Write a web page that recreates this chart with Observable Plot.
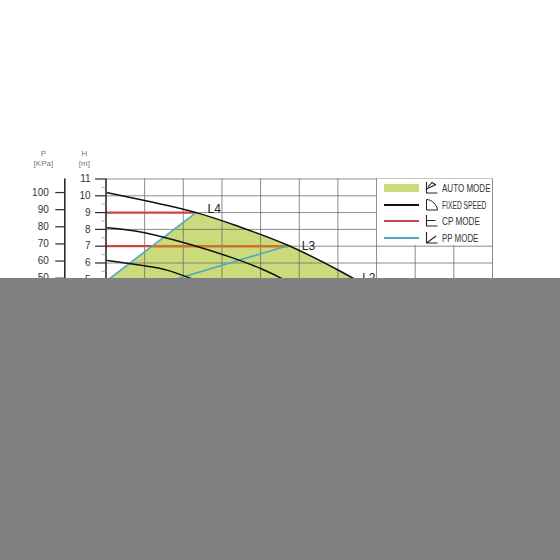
<!DOCTYPE html>
<html><head><meta charset="utf-8">
<script src="https://cdn.jsdelivr.net/npm/d3@7"></script>
<script src="https://cdn.jsdelivr.net/npm/@observablehq/plot@0.6"></script>
<style>
html,body{margin:0;padding:0;background:#fff;width:560px;height:560px;overflow:hidden}
#wrap{position:relative;width:560px;height:560px}
#wrap svg.plot{position:absolute;left:0;top:0}
#legend{position:absolute;left:377px;top:179px;width:114.5px;height:65.5px;background:#fff;font:11px "Liberation Sans",sans-serif;color:#333}
.row{position:absolute;left:0;width:114px;height:16px}
.sw{position:absolute;left:7px;width:35px}
.row svg{position:absolute;left:48px;top:1px}
.lab{position:absolute;left:65px;top:1px;line-height:14px;white-space:nowrap;transform-origin:left center}
#mask{position:absolute;left:0;top:278px;width:560px;height:282px;background:#808080}
</style></head><body>
<div id="wrap"></div>
<script>
const hTicks=[5,6,7,8,9,10,11];
const hMinor=[4.5,5.5,6.5,7.5,8.5,9.5,10.5];
const pTicks=[50,60,70,80,90,100];
const gridX=[1,2,3,4,5,6,7,8,9,10];
const curveL4=[[0.04,10.18],[1,9.72],[2.33,9],[3.4,8.2],[4.72,7.04],[5.99,5.6],[6.5,4.95]];
const curveL3=[[0.04,8.1],[1,7.8],[2.27,7.04],[3.22,6.35],[4,5.67],[4.6,5.02],[4.75,4.85]];
const curveL2=[[0.04,6.15],[1,5.83],[1.6,5.56],[2.25,5.03],[2.45,4.85]];
const greenEdge=[[2.33,9],[2.8,8.66],[3.4,8.2],[4.05,7.63],[4.72,7.04],[5.35,6.37],[5.99,5.6],[6.5,4.95]];
const greenArea=[[0.05,4.85],[0.05,5],...greenEdge];
const redLines=[[9,0,2.33],[7,0,4.72],[5,0,6.4]];
const redOverGreen=[[7,1.19,4.72],[5,0.05,6.4]];
const blueLines=[[[0.05,5],[2.33,9]],[[1.75,5],[4.72,7.04]]];
const curveNames=[["L4",2.8,9.2],["L3",5.24,7.03],["L2",6.8,5.1]];
const legendItems=["AUTO MODE","FIXED SPEED","CP MODE","PP MODE"];
const legendSqueeze=[0.73,0.61,0.74,0.72];
const unitLabels=[["P",-1.62,12.52],["[KPa]",-1.62,11.92],["H",-0.56,12.52],["[m]",-0.56,11.92]];
const GREEN="#cbda7a",RED="#c9483f",ORANGE="#d2702c",BLUE="#4ea8c4",INK="#2a2a2a",GRID="#6e6e6e";
const pToH=p=>p/9.81;

const chart=Plot.plot({
  width:560,height:560,
  marginLeft:105.5,marginRight:68,marginTop:178.5,marginBottom:560-363.3,
  style:{background:"transparent",fontFamily:"'Liberation Sans',sans-serif"},
  x:{domain:[0,10],axis:null},
  y:{domain:[0,11],axis:null},
  marks:[
    Plot.line(greenArea.concat([greenArea[0]]),{x:d=>d[0],y:d=>d[1],fill:GREEN,stroke:"none"}),
    Plot.ruleY(hTicks,{x1:0,x2:10,stroke:GRID,strokeWidth:0.8}),
    Plot.ruleX(gridX,{y1:0,y2:11,stroke:GRID,strokeWidth:0.8}),
    Plot.ruleY(redLines,{y:d=>d[0],x1:d=>d[1],x2:d=>d[2],stroke:RED,strokeWidth:2.2}),
    Plot.ruleY(redOverGreen,{y:d=>d[0],x1:d=>d[1],x2:d=>d[2],stroke:ORANGE,strokeWidth:2.2}),
    ...blueLines.map(l=>Plot.line(l,{x:d=>d[0],y:d=>d[1],stroke:BLUE,strokeWidth:1.6})),
    ...[curveL4,curveL3,curveL2].map(c=>Plot.line(c,{x:d=>d[0],y:d=>d[1],curve:"natural",stroke:"#111",strokeWidth:1.5})),
    Plot.ruleX([0],{y1:0,y2:11,stroke:INK,strokeWidth:1.6}),
    Plot.ruleX([-1.066],{y1:0,y2:11,stroke:INK,strokeWidth:1.6}),
    Plot.ruleY(hTicks,{x1:-0.27,x2:0,stroke:INK,strokeWidth:1.2}),
    Plot.ruleY(hMinor,{x1:-0.1,x2:0,stroke:"#aaa",strokeWidth:1}),
    Plot.ruleY(pTicks,{y:pToH,x1:-1.3,x2:-1.066,stroke:INK,strokeWidth:1.2}),
    Plot.text(hTicks,{x:-0.4,y:d=>d,text:d=>String(d),textAnchor:"end",fontSize:10,fill:"#333"}),
    Plot.text(pTicks,{x:-1.48,y:pToH,text:d=>String(d),textAnchor:"end",fontSize:10,fill:"#333"}),
    Plot.text(curveNames,{x:d=>d[1],y:d=>d[2],text:d=>d[0],fontSize:12,fill:"#222"}),
    Plot.text(unitLabels,{x:d=>d[1],y:d=>d[2],text:d=>d[0],fontSize:8,fill:"#777"})
  ]
});
const wrap=document.getElementById("wrap");
wrap.appendChild(chart);

const icons=[
 '<path d="M1.5 1v11h11M1.5 8L11 3.5M3 6L7 1.5L11 4" fill="none" stroke="#222" stroke-width="1.1"/>',
 '<path d="M1.5 1.5v10.5h11C12 7 7 1.5 1.5 1.5z" fill="none" stroke="#222" stroke-width="1"/>',
 '<path d="M1.5 1v11h11M1.5 6.5h9" fill="none" stroke="#222" stroke-width="1.1"/>',
 '<path d="M1.5 1v11h11M1.5 12L11 5" fill="none" stroke="#222" stroke-width="1.1"/>'
];
const rowTops=[1,18,34,51];
const swatches=[
 `top:4px;height:8px;background:${GREEN}`,
 `top:7px;height:2px;background:#111`,
 `top:7px;height:2px;background:${RED}`,
 `top:7px;height:2px;background:${BLUE}`
];
const legend=document.createElement("div");legend.id="legend";
legend.innerHTML=legendItems.map((t,i)=>`<div class="row" style="top:${rowTops[i]}px"><div class="sw" style="${swatches[i]}"></div><svg width="14" height="14">${icons[i]}</svg><span class="lab" style="transform:scaleX(${legendSqueeze[i]})">${t}</span></div>`).join("");
wrap.appendChild(legend);
const mask=document.createElement("div");mask.id="mask";wrap.appendChild(mask);
</script>
</body></html>
